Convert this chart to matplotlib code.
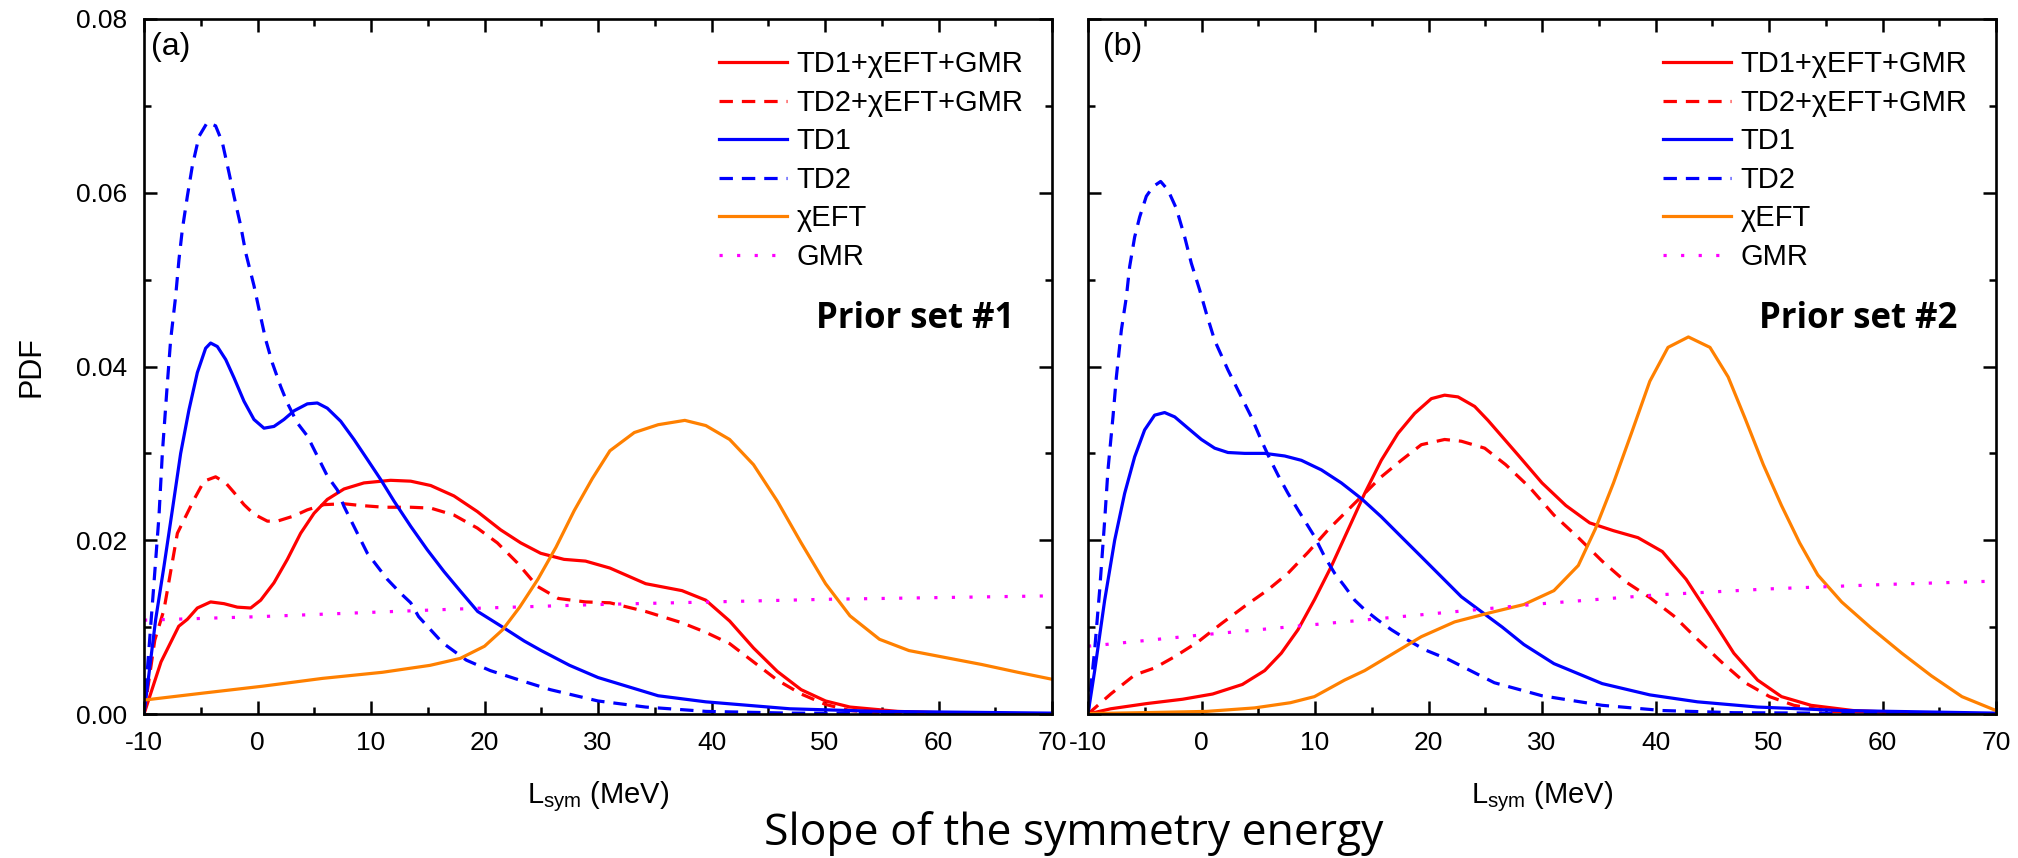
import numpy as np
import matplotlib
matplotlib.use('Agg')
import matplotlib.pyplot as plt
from matplotlib.ticker import MultipleLocator, FormatStrFormatter

plt.rcParams['font.family'] = ['Liberation Sans', 'DejaVu Sans']
plt.rcParams['mathtext.default'] = 'regular'
plt.rcParams['axes.unicode_minus'] = False

# ---- panel (a): prior set #1 ----
a_comb1_x = [-10, -8.5, -6.94, -6.18, -5.3, -4.13, -2.95, -1.78, -0.6, 0.28, 1.45, 2.63, 3.8, 4.98, 6.15, 7.62, 9.38,
             11.73, 13.5, 15.26, 17.31, 19.37, 21.42, 23.19, 24.95, 27.0, 28.9, 31.05, 34.2, 37.4, 39.5, 41.6, 43.7,
             45.8, 47.9, 50.05, 52.2, 56.4, 62.7, 70]
a_comb1_y = [0, 0.006, 0.0101, 0.0109, 0.0122, 0.0129, 0.0127, 0.0123, 0.0122, 0.0131, 0.0151, 0.0178, 0.0208, 0.0231, 0.0247, 0.0259, 0.0266,
             0.0269, 0.0268, 0.0263, 0.0251, 0.0233, 0.0212, 0.0197, 0.0185, 0.0178, 0.0176, 0.0168, 0.015, 0.0142, 0.0131, 0.0107, 0.0076,
             0.0049, 0.0028, 0.0015, 0.0008, 0.0003, 0.00005, 0]

a_comb2_x = [-10, -9.05, -8.24, -7.06, -5.59, -4.71, -3.69, -2.8, -2.07, -1.19, -0.31, 0.87, 1.75, 3.22, 4.39, 5.86, 7.62,
             9.09, 11.15, 13.5, 15.26, 17.31, 19.37, 21.13, 22.89, 24.65, 26.5, 28.9, 31.05, 34.2, 37.4, 39.5, 41.6,
             43.7, 45.8, 47.9, 50.05, 52.2, 55.3, 70]
a_comb2_y = [0, 0.0085, 0.012, 0.0208, 0.0247, 0.0268, 0.0273, 0.0266, 0.0255, 0.0241, 0.023, 0.0222, 0.0222, 0.0228, 0.0235, 0.0241, 0.0242,
             0.024, 0.0238, 0.0238, 0.0237, 0.0229, 0.0214, 0.0197, 0.0174, 0.0147, 0.0133, 0.0129, 0.0128, 0.0118, 0.0105, 0.0094, 0.0081,
             0.006, 0.0039, 0.0023, 0.0011, 0.0004, 0.0001, 0]

a_td1_x = [-10, -8.97, -8.24, -7.5, -6.77, -6.04, -5.3, -4.57, -4.13, -3.54, -2.8, -2.07, -1.19, -0.31, 0.57, 1.45, 2.33,
           3.22, 4.39, 5.27, 6.15, 7.33, 8.5, 9.68, 10.85, 12.03, 13.5, 14.96, 16.43, 17.9, 19.4, 21.6, 23.5,
           25.0, 27.5, 30.0, 35.3, 39.5, 46.9, 54.8, 70]
a_td1_y = [0, 0.0109, 0.017, 0.0235, 0.03, 0.035, 0.0393, 0.0421, 0.0427, 0.0423, 0.0408, 0.0387, 0.036, 0.0339, 0.0329, 0.0331, 0.0339,
           0.0349, 0.0357, 0.0358, 0.0352, 0.0337, 0.0316, 0.0293, 0.027, 0.0245, 0.0216, 0.0189, 0.0164, 0.0141, 0.0118, 0.01, 0.0084,
           0.0073, 0.0056, 0.0042, 0.0021, 0.0014, 0.0006, 0.0003, 0.0001]

a_td2_x = [-10, -9.12, -8.68, -8.38, -7.94, -7.65, -7.21, -6.92, -6.62, -6.18, -5.74, -5.15, -4.42, -3.69, -3.1, -2.51, -2.07,
           -1.48, -1.04, -0.31, 0.13, 0.72, 1.31, 2.04, 2.63, 3.51, 4.39, 5.27, 6.15, 7.03, 7.62, 8.8, 9.68,
           10.56, 11.44, 12.61, 13.5, 14.2, 16.3, 18.4, 20.5, 23.1, 25.8, 30.0, 34.2, 39.5, 46.9, 70]
a_td2_y = [0, 0.0151, 0.0228, 0.0301, 0.0381, 0.0431, 0.0481, 0.0523, 0.0558, 0.0596, 0.0631, 0.0665, 0.0681, 0.0677, 0.0658, 0.0623, 0.0596,
           0.0562, 0.0531, 0.0493, 0.0466, 0.0431, 0.0404, 0.0377, 0.0358, 0.0335, 0.032, 0.0297, 0.0274, 0.0258, 0.0239, 0.0208, 0.0185,
           0.017, 0.0155, 0.0139, 0.0128, 0.0112, 0.0082, 0.0062, 0.005, 0.0039, 0.0028, 0.0015, 0.0008, 0.0003, 0.0001, 0]

a_eft_x = [-10, -4.83, 0.45, 5.73, 11.0, 15.2, 17.86, 20.0, 21.6, 23.1, 24.7, 26.3, 27.9, 29.5, 31.05, 33.2, 35.3,
           37.65, 39.5, 41.6, 43.7, 45.8, 47.9, 50.05, 52.2, 54.8, 57.4, 60.6, 63.8, 67.0, 70]
a_eft_y = [0.0016, 0.0024, 0.0032, 0.0041, 0.0048, 0.0056, 0.0064, 0.0078, 0.0097, 0.0123, 0.0155, 0.0192, 0.0234, 0.0271, 0.0303, 0.0324, 0.0333,
           0.0338, 0.0332, 0.0316, 0.0287, 0.0245, 0.0197, 0.015, 0.0113, 0.0086, 0.0073, 0.0065, 0.0057, 0.0048, 0.004]

a_gmr_x = [-10, 0, 10, 20, 30, 40, 50, 60, 70]
a_gmr_y = [0.0108, 0.0112, 0.0117, 0.0122, 0.0126, 0.0129, 0.0132, 0.0134, 0.0136]

# ---- panel (b): prior set #2 ----
b_comb1_x = [-10, -8.0, -4.83, -1.66, 0.98, 3.6, 5.57, 7.03, 8.5, 9.97, 11.44, 12.91, 14.38, 15.84, 17.31, 18.78, 20.25,
             21.42, 22.6, 24.07, 25.24, 27.9, 30.0, 32.1, 34.2, 36.3, 38.45, 40.6, 42.7, 44.8, 46.9, 49.0, 51.1,
             53.7, 57.4, 62.7, 70]
b_comb1_y = [0, 0.0006, 0.0012, 0.0017, 0.0023, 0.0034, 0.005, 0.007, 0.0097, 0.0132, 0.017, 0.0212, 0.0254, 0.0292, 0.0323, 0.0346, 0.0363,
             0.0367, 0.0365, 0.0354, 0.0338, 0.0298, 0.0266, 0.024, 0.022, 0.0211, 0.0203, 0.0187, 0.0155, 0.0113, 0.007, 0.0039, 0.002,
             0.001, 0.0004, 0.0001, 0]

b_comb2_x = [-10, -8.0, -5.88, -4.13, -2.36, -0.31, 1.75, 3.8, 5.86, 7.62, 9.38, 11.15, 12.91, 14.38, 15.84, 17.6, 19.37,
             21.42, 22.89, 24.95, 26.8, 28.9, 31.05, 33.2, 35.3, 37.4, 39.5, 41.6, 43.7, 45.8, 47.9, 50.05, 52.2,
             55.3, 70]
b_comb2_y = [0, 0.0023, 0.0045, 0.0053, 0.0066, 0.0083, 0.0104, 0.0124, 0.0143, 0.0162, 0.0186, 0.0212, 0.0235, 0.0254, 0.0273, 0.0292, 0.031,
             0.0316, 0.0314, 0.0306, 0.0287, 0.0261, 0.0229, 0.0203, 0.0176, 0.0152, 0.0134, 0.0113, 0.0086, 0.006, 0.0036, 0.002, 0.001,
             0.0003, 0]

b_td1_x = [-10, -9.41, -8.53, -7.65, -6.77, -5.89, -5.01, -4.13, -3.25, -2.36, -1.19, -0.01, 1.16, 2.33, 3.8, 5.57, 7.33,
           8.8, 10.56, 12.32, 14.08, 15.84, 17.6, 19.37, 21.13, 22.89, 24.95, 26.5, 28.4, 31.05, 35.3, 39.5, 43.7,
           49.0, 56.4, 70]
b_td1_y = [0, 0.005, 0.0131, 0.02, 0.0254, 0.0296, 0.0327, 0.0344, 0.0347, 0.0342, 0.0329, 0.0316, 0.0306, 0.0301, 0.03, 0.03, 0.0297,
           0.0292, 0.0281, 0.0266, 0.0248, 0.0227, 0.0204, 0.0181, 0.0158, 0.0135, 0.0115, 0.01, 0.008, 0.0058, 0.0035, 0.0022, 0.0014,
           0.0008, 0.0004, 0.0001]

b_td2_x = [-10, -9.41, -8.97, -8.53, -8.24, -7.8, -7.5, -7.06, -6.62, -6.33, -5.89, -5.45, -4.86, -4.27, -3.6, -2.95, -2.22,
           -1.48, -0.9, -0.16, 0.43, 1.16, 2.33, 3.66, 4.39, 5.27, 6.01, 6.74, 7.62, 8.5, 9.97, 10.85, 11.73,
           12.61, 13.5, 14.38, 15.55, 16.73, 18.19, 19.66, 21.72, 25.8, 30.0, 35.3, 40.6, 46.9, 70]
b_td2_y = [0, 0.0074, 0.0143, 0.0223, 0.0281, 0.0342, 0.0388, 0.0442, 0.048, 0.0515, 0.0549, 0.0572, 0.0596, 0.0607, 0.0613, 0.0603, 0.0582,
           0.0549, 0.0519, 0.0488, 0.0461, 0.043, 0.0396, 0.0361, 0.0342, 0.0315, 0.0294, 0.0275, 0.0254, 0.0235, 0.0204, 0.0181, 0.0162,
           0.0147, 0.0131, 0.012, 0.0108, 0.0097, 0.0085, 0.0074, 0.0063, 0.0036, 0.0021, 0.001, 0.0004, 0.00015, 0]

b_eft_x = [-10, -4.83, 0.45, 4.67, 7.84, 9.95, 12.6, 14.38, 16.43, 19.37, 22.3, 25.24, 28.4, 31.05, 33.2, 34.7, 36.3,
           37.9, 39.5, 41.1, 42.9, 44.8, 46.4, 47.9, 49.5, 51.1, 52.7, 54.3, 56.4, 59.0, 61.7, 64.3, 67.0, 70]
b_eft_y = [0.00005, 0.00016, 0.0003, 0.0007, 0.0013, 0.002, 0.0039, 0.005, 0.0066, 0.0089, 0.0106, 0.0116, 0.0126, 0.0142, 0.0171, 0.0213, 0.0266,
           0.0324, 0.0383, 0.0422, 0.0434, 0.0422, 0.0388, 0.034, 0.0287, 0.024, 0.0197, 0.016, 0.0129, 0.0099, 0.007, 0.0044, 0.002, 0.0004]

b_gmr_x = [-10, 0, 10, 20, 30, 40, 50, 60, 70]
b_gmr_y = [0.0078, 0.0091, 0.0103, 0.0115, 0.0127, 0.0137, 0.0144, 0.0149, 0.0153]

labels = ['TD1+χEFT+GMR', 'TD2+χEFT+GMR', 'TD1', 'TD2', 'χEFT', 'GMR']

RED = '#ff0000'
BLUE = '#0000ff'
ORANGE = '#ff8000'
MAGENTA = '#ff00ff'
LW = 2.3
DASH = (0, (4.2, 2.8))
DOT = (0, (1, 4.5))


def draw_panel(ax, curves, tag, prior, show_ylabels):
    styles = [(RED, '-'), (RED, DASH), (BLUE, '-'), (BLUE, DASH), (ORANGE, '-'), (MAGENTA, DOT)]
    for (xs, ys), (c, ls), lab in zip(curves, styles, labels):
        ax.plot(xs, ys, color=c, linestyle=ls, lw=LW, label=lab, solid_joinstyle='round')

    ax.set_xlim(-10, 70)
    ax.set_ylim(0, 0.08)
    ax.xaxis.set_major_locator(MultipleLocator(10))
    ax.xaxis.set_minor_locator(MultipleLocator(5))
    ax.yaxis.set_major_locator(MultipleLocator(0.02))
    ax.yaxis.set_minor_locator(MultipleLocator(0.01))
    ax.yaxis.set_major_formatter(FormatStrFormatter('%.2f'))
    ax.tick_params(which='both', direction='in', top=True, right=True, width=1.8)
    ax.tick_params(which='major', length=9.5, labelsize=19, pad=12)
    ax.tick_params(which='minor', length=5)
    if not show_ylabels:
        ax.tick_params(axis='y', labelleft=False)
    for s in ax.spines.values():
        s.set_linewidth(1.9)

    ax.set_xlabel('L$_{sym}$ (MeV)', fontsize=21, labelpad=18)

    ax.text(0.008 if show_ylabels else 0.016, 0.981, tag, transform=ax.transAxes,
            fontsize=23, ha='left', va='top')
    ax.text(0.958, 0.555, prior, transform=ax.transAxes, fontsize=25,
            fontweight='bold', family=['Open Sans', 'DejaVu Sans'], ha='right', va='baseline')

    leg = ax.legend(loc='upper left', bbox_to_anchor=(0.633, 0.955), frameon=False,
                    fontsize=21, handlelength=2.35, handletextpad=0.32,
                    labelspacing=0.36, borderpad=0, borderaxespad=0)
    return leg


fig = plt.figure(figsize=(20.18, 8.58), dpi=100)
W, H = 2018, 858
ax1 = fig.add_axes([144 / W, (H - 714) / H, 908 / W, 695 / H])
ax2 = fig.add_axes([1088 / W, (H - 714) / H, 908 / W, 695 / H])

curves_a = [(a_comb1_x, a_comb1_y), (a_comb2_x, a_comb2_y), (a_td1_x, a_td1_y),
            (a_td2_x, a_td2_y), (a_eft_x, a_eft_y), (a_gmr_x, a_gmr_y)]
curves_b = [(b_comb1_x, b_comb1_y), (b_comb2_x, b_comb2_y), (b_td1_x, b_td1_y),
            (b_td2_x, b_td2_y), (b_eft_x, b_eft_y), (b_gmr_x, b_gmr_y)]

draw_panel(ax1, curves_a, '(a)', 'Prior set #1', True)
draw_panel(ax2, curves_b, '(b)', 'Prior set #2', False)

ax1.set_ylabel('PDF', fontsize=22, labelpad=21)

fig.text(1074 / W, (H - 845) / H, 'Slope of the symmetry energy', fontsize=32,
         family=['Open Sans', 'DejaVu Sans'], ha='center', va='baseline')

fig.savefig('out.png', dpi=100)
